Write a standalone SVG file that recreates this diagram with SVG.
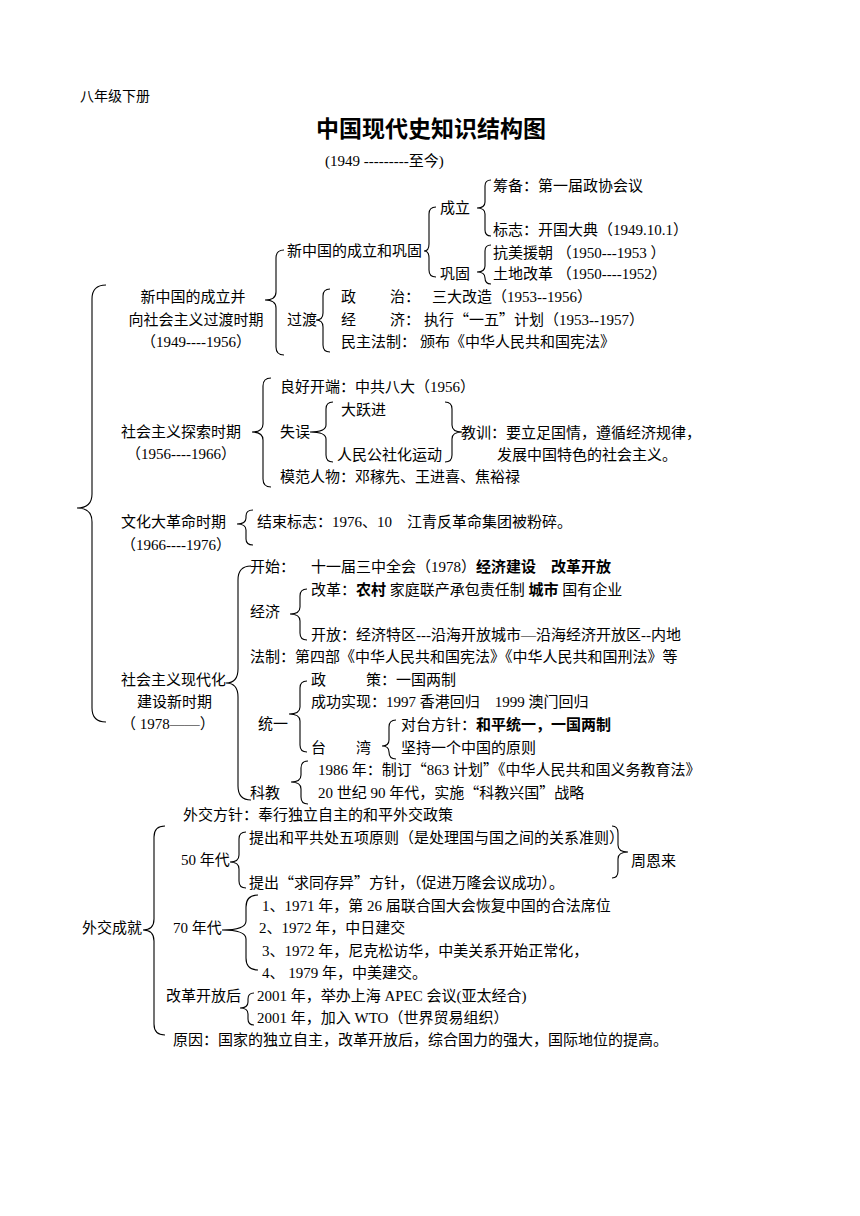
<svg xmlns="http://www.w3.org/2000/svg" width="860" height="1216" viewBox="0 0 860 1216">
<style>
text{font-family:"Liberation Serif","Noto Sans CJK SC",serif;font-size:15px;fill:#000}
.b{font-weight:bold}
.m{text-anchor:middle}
.q{font-family:"Noto Sans CJK SC",sans-serif}
.br{fill:none;stroke:#000;stroke-width:1.1}
</style>
<rect width="860" height="1216" fill="#fff"/>
<g id="header">
<text x="80" y="101" style="font-size:14px">八年级下册</text>
<text x="316" y="137" class="b" style="font-size:23px">中国现代史知识结构图</text>
<text x="325" y="166">(1949 ---------至今)</text>
</g>
<g id="connectors" class="br">
<path d="M491 180 Q485 180 485 186 L485 202 Q485 208 477 208 Q485 208 485 214 L485 230 Q485 236 491 236"/>
<path d="M436 207 Q429 207 429 214 L429 244 Q429 251 424 251 Q429 251 429 258 L429 270 Q429 277 436 277"/>
<path d="M491 245 Q485 245 485 251 L485 266 Q485 272 477 272 Q485 272 485 278 L485 278 Q485 284 491 284"/>
<path d="M284 250 Q276 250 276 258 L276 292 Q276 300 265 300 Q276 300 276 308 L276 347 Q276 355 284 355"/>
<path d="M330 289 Q323 289 323 296 L323 313 Q323 320 316 320 Q323 320 323 327 L323 345 Q323 352 330 352"/>
<path d="M106 285 Q92 285 92 299 L92 494 Q92 508 77 508 Q92 508 92 522 L92 708 Q92 722 106 722"/>
<path d="M271 378 Q263 378 263 386 L263 424 Q263 432 252 432 Q263 432 263 440 L263 479 Q263 487 271 487"/>
<path d="M333 402 Q326 402 326 409 L326 425 Q326 432 310 432 Q326 432 326 439 L326 455 Q326 462 333 462"/>
<path d="M445 402 Q452 402 452 409 L452 425 Q452 432 462 432 Q452 432 452 439 L452 455 Q452 462 445 462"/>
<path d="M253 510 Q246 510 246 516 L246 518 Q246 524 237 524 Q246 524 246 530 L246 539 Q246 545 253 545"/>
<path d="M251 566 Q238 566 238 580 L238 669 Q238 683 226 683 Q238 683 238 697 L238 786 Q238 800 251 800"/>
<path d="M307 589 Q300 589 300 596 L300 607 Q300 614 290 614 Q300 614 300 621 L300 633 Q300 640 307 640"/>
<path d="M307 681 Q300 681 300 688 L300 707 Q300 714 289 714 Q300 714 300 721 L300 745 Q300 752 307 752"/>
<path d="M396 720 Q389 720 389 727 L389 740 Q389 746 382 746 Q389 746 389 752 L389 752 Q389 759 396 759"/>
<path d="M308 761 Q301 761 301 768 L301 775 Q301 782 291 782 Q301 782 301 789 L301 797 Q301 804 308 804"/>
<path d="M165 826 Q154 826 154 837 L154 919 Q154 930 143 930 Q154 930 154 941 L154 1024 Q154 1035 165 1035"/>
<path d="M246 832 Q239 832 239 839 L239 855 Q239 862 230 862 Q239 862 239 869 L239 881 Q239 888 246 888"/>
<path d="M612 826 Q618 826 618 833 L618 845 Q618 852 628 852 Q618 852 618 859 L618 871 Q618 878 612 878"/>
<path d="M258 895 Q246 895 246 907 L246 921 Q246 930 222 930 Q246 930 246 939 L246 958 Q246 970 258 970"/>
<path d="M254 993 Q248 993 248 999 L248 1002 Q248 1008 240 1008 Q248 1008 248 1014 L248 1019 Q248 1025 254 1025"/>
</g>
<g id="n-choubei"><text x="493" y="191">筹备：第一届政协会议</text></g>
<g id="n-chengli"><text x="440" y="213">成立</text></g>
<g id="n-biaozhi"><text x="493" y="235">标志：开国大典（1949.10.1）</text></g>
<g id="n-xinzhongguo"><text x="287" y="256">新中国的成立和巩固</text></g>
<g id="n-kangmei"><text x="493" y="258">抗美援朝 （1950---1953 ）</text></g>
<g id="n-gonggu"><text x="440" y="279">巩固</text></g>
<g id="n-tudi"><text x="493" y="279">土地改革 （1950----1952）</text></g>
<g id="n-period1">
<text x="193" y="302" class="m">新中国的成立并</text>
<text x="196" y="325" class="m">向社会主义过渡时期</text>
<text x="196" y="347" class="m">（1949----1956）</text>
</g>
<g id="n-guodu"><text x="287" y="325">过渡</text></g>
<g id="n-zhengzhi"><text x="341" y="302">政</text><text x="390" y="302">治：</text><text x="432" y="302">三大改造（1953--1956）</text></g>
<g id="n-jingji1"><text x="341" y="325">经</text><text x="390" y="325">济：</text><text x="424" y="325">执行<tspan class="q">“</tspan>一五<tspan class="q">”</tspan>计划（1953--1957）</text></g>
<g id="n-minzhu"><text x="341" y="347">民主法制：</text><text x="420" y="347">颁布《中华人民共和国宪法》</text></g>
<g id="n-period2">
<text x="121" y="437">社会主义探索时期</text>
<text x="181" y="459" class="m">（1956----1966）</text>
</g>
<g id="n-lianghao"><text x="280" y="392">良好开端：中共八大（1956）</text></g>
<g id="n-shiwu"><text x="280" y="437">失误</text></g>
<g id="n-dayuejin"><text x="341" y="415">大跃进</text></g>
<g id="n-renmin"><text x="337" y="460">人民公社化运动</text></g>
<g id="n-jiaoxun"><text x="461" y="438">教训：要立足国情，遵循经济规律，</text><text x="497" y="460">发展中国特色的社会主义。</text></g>
<g id="n-mofan"><text x="280" y="482">模范人物：邓稼先、王进喜、焦裕禄</text></g>
<g id="n-period3">
<text x="121" y="527">文化大革命时期</text>
<text x="176" y="550" class="m">（1966----1976）</text>
</g>
<g id="n-jieshu"><text x="257" y="527">结束标志：1976、10　江青反革命集团被粉碎。</text></g>
<g id="n-period4">
<text x="121" y="685">社会主义现代化</text>
<text x="137" y="707">建设新时期</text>
<text x="121" y="729">（ 1978——）</text>
</g>
<g id="n-kaishi"><text x="250" y="572">开始：</text><text x="311" y="572">十一届三中全会（1978）<tspan class="b">经济建设　改革开放</tspan></text></g>
<g id="n-jingji"><text x="250" y="617">经济</text></g>
<g id="n-gaige"><text x="311" y="595">改革：<tspan class="b">农村</tspan> 家庭联产承包责任制 <tspan class="b">城市</tspan> 国有企业</text></g>
<g id="n-kaifang"><text x="311" y="640">开放：经济特区---沿海开放城市—沿海经济开放区--内地</text></g>
<g id="n-fazhi"><text x="250" y="662">法制：第四部《中华人民共和国宪法》《中华人民共和国刑法》等</text></g>
<g id="n-tongyi"><text x="258" y="729">统一</text></g>
<g id="n-zhengce"><text x="311" y="685">政</text><text x="366" y="685">策：一国两制</text></g>
<g id="n-chenggong"><text x="311" y="707">成功实现：1997 香港回归　1999 澳门回归</text></g>
<g id="n-taiwan"><text x="311" y="753">台</text><text x="356" y="753">湾</text></g>
<g id="n-duitai"><text x="401" y="730">对台方针：<tspan class="b">和平统一，一国两制</tspan></text></g>
<g id="n-jianchi"><text x="401" y="753">坚持一个中国的原则</text></g>
<g id="n-kejiao"><text x="250" y="798">科教</text></g>
<g id="n-1986"><text x="318" y="775">1986 年：制订<tspan class="q">“</tspan>863 计划<tspan class="q">”</tspan>《中华人民共和国义务教育法》</text></g>
<g id="n-90"><text x="318" y="798">20 世纪 90 年代，实施<tspan class="q">“</tspan>科教兴国<tspan class="q">”</tspan>战略</text></g>
<g id="n-waijiaofangzhen"><text x="183" y="820">外交方针：奉行独立自主的和平外交政策</text></g>
<g id="n-waijiaochengjiu"><text x="82" y="933">外交成就</text></g>
<g id="n-50"><text x="181" y="865">50 年代</text></g>
<g id="n-heping"><text x="249" y="843">提出和平共处五项原则（是处理国与国之间的关系准则）</text></g>
<g id="n-qiutong"><text x="249" y="888">提出<tspan class="q">“</tspan>求同存异<tspan class="q">”</tspan>方针，（促进万隆会议成功）。</text></g>
<g id="n-zhouenlai"><text x="631" y="866">周恩来</text></g>
<g id="n-70"><text x="173" y="933">70 年代</text></g>
<g id="n-1971"><text x="262" y="911">1、1971 年，第 26 届联合国大会恢复中国的合法席位</text></g>
<g id="n-1972a"><text x="259" y="933">2、1972 年，中日建交</text></g>
<g id="n-1972b"><text x="262" y="956">3、1972 年，尼克松访华，中美关系开始正常化，</text></g>
<g id="n-1979"><text x="262" y="978">4、 1979 年，中美建交。</text></g>
<g id="n-gaigekaifanghou"><text x="166" y="1001">改革开放后</text></g>
<g id="n-apec"><text x="257" y="1001">2001 年，举办上海 APEC 会议(亚太经合)</text></g>
<g id="n-wto"><text x="257" y="1023">2001 年，加入 WTO（世界贸易组织）</text></g>
<g id="n-yuanyin"><text x="173" y="1045">原因：国家的独立自主，改革开放后，综合国力的强大，国际地位的提高。</text></g>
</svg>
